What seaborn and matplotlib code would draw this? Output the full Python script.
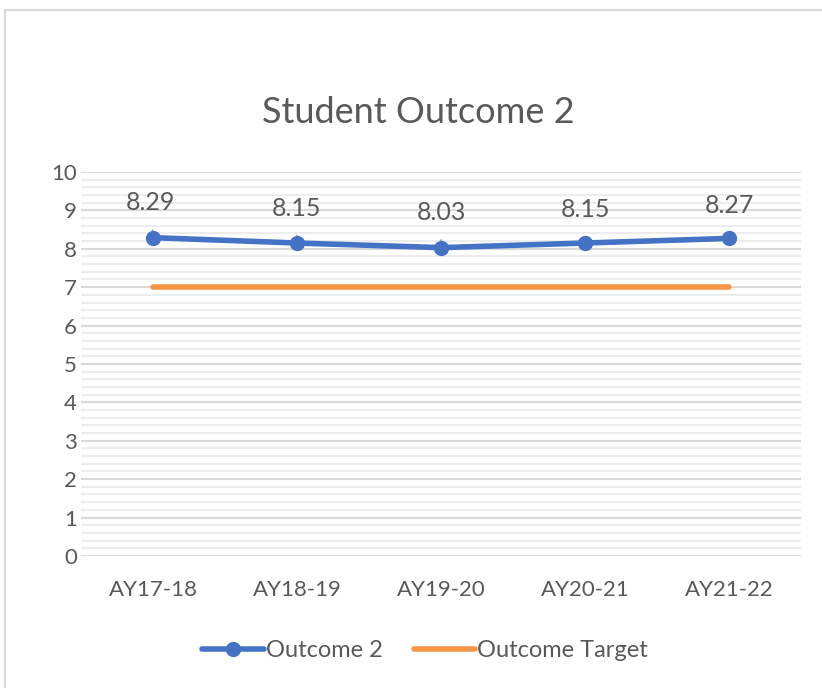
import pandas as pd
import matplotlib.pyplot as plt
import seaborn as sns
import numpy as np
from matplotlib.ticker import MultipleLocator
from matplotlib.patches import Rectangle

years = ["AY17-18", "AY18-19", "AY19-20", "AY20-21", "AY21-22"]
outcome = [8.29, 8.15, 8.03, 8.15, 8.27]
target = [7, 7, 7, 7, 7]

BLUE = "#4472C4"
ORANGE = "#F79646"
TEXT = "#595959"

sns.set_theme(style="white")
plt.rcParams['font.family'] = ['Lato', 'DejaVu Sans']

df = pd.DataFrame({"year": years, "Outcome 2": outcome, "Outcome Target": target})
df["x"] = np.arange(len(years))

fig = plt.figure(figsize=(8.22, 6.88), dpi=100)
ax = fig.add_axes([0.0985, 0.192, 0.876, 0.558])

sns.lineplot(data=df, x="x", y="Outcome 2", ax=ax, color=BLUE, lw=4,
             marker="o", markersize=11, markeredgewidth=0, label="Outcome 2",
             solid_capstyle="round", zorder=4)
sns.lineplot(data=df, x="x", y="Outcome Target", ax=ax, color=ORANGE, lw=4,
             label="Outcome Target", solid_capstyle="round", zorder=3)

ax.set_xlim(-0.5, len(years) - 0.5)
ax.set_ylim(0, 10)
ax.set_xticks(df["x"])
ax.set_xticklabels(years)
ax.yaxis.set_major_locator(MultipleLocator(1))
ax.yaxis.set_minor_locator(MultipleLocator(0.2))
ax.grid(axis="y", which="major", color="#D9D9D9", lw=1.5)
ax.grid(axis="y", which="minor", color="#EDEDED", lw=1.5)
ax.set_axisbelow(True)
for s in ax.spines.values():
    s.set_visible(False)
ax.tick_params(axis="both", length=0, labelsize=16, colors=TEXT)
ax.tick_params(axis="y", pad=3)
ax.tick_params(axis="x", pad=17)
ax.set_xlabel("")
ax.set_ylabel("")

# data labels with leader lines on the first three
for i, v in enumerate(outcome):
    if i < 3:
        ax.annotate(f"{v:.2f}", (i, v), xytext=(-2 if i == 0 else 0, 25),
                    textcoords="offset points", ha="center", va="center",
                    fontsize=18, color=TEXT,
                    arrowprops=dict(arrowstyle="-", color="#A6A6A6", lw=1.3,
                                    shrinkA=9, shrinkB=4))
    else:
        ax.annotate(f"{v:.2f}", (i, v), xytext=(0, 24),
                    textcoords="offset points", ha="center", va="center",
                    fontsize=18, color=TEXT)

fig.text(0.509, 0.837, "Student Outcome 2", ha="center", va="center",
         fontsize=26, color=TEXT)

leg = ax.legend(loc="upper center", bbox_to_anchor=(0.478, -0.165), ncol=2,
                frameon=False, fontsize=17, handlelength=2.6, handletextpad=0.1,
                columnspacing=1.3)
for t in leg.get_texts():
    t.set_color(TEXT)

fig.patches.append(Rectangle((5 / 822, -0.01), 1.1, 1 - 10 / 688 + 0.01,
                             transform=fig.transFigure, fill=False,
                             edgecolor="#D9D9D9", lw=1.5))

fig.savefig("out.png", dpi=100)
